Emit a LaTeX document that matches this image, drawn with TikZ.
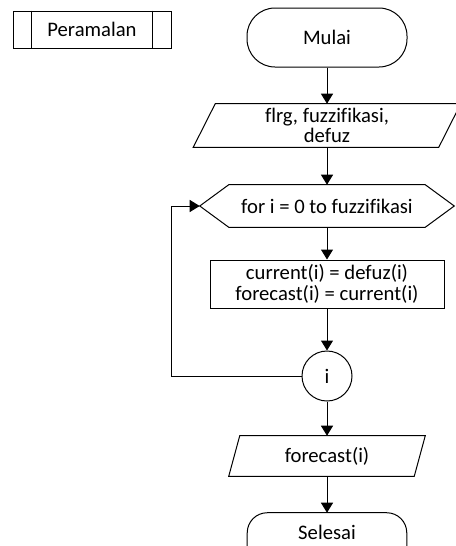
\documentclass[tikz,border=0pt]{standalone}
\usepackage{fontspec}
\setmainfont{Carlito}[Ligatures=NoCommon]
\usetikzlibrary{arrows.meta,calc}
\begin{document}
\begin{tikzpicture}[x=0.75pt,y=-0.75pt,
  every node/.style={font=\fontsize{15.5}{15.5}\selectfont, align=center, inner sep=0pt},
  line/.style={draw=black, line width=0.75pt},
  flow/.style={line, -{Triangle[width=9pt,length=7.5pt]}},
  shapebox/.style={draw=none},
  terminal/.style={line, rounded corners=#1},
  procbox/.style={line}]
\clip (0,0) rectangle (456,546);
\useasboundingbox (0,0) rectangle (456,546);

% predefined process label
\node[procbox, minimum width=118.5pt, minimum height=27.75pt] (p) at (92,29.5) {Peramalan};
\draw[line] ($(p.north west)+(19,0)$) -- ($(p.south west)+(19,0)$);
\draw[line] ($(p.north east)+(-19,0)$) -- ($(p.south east)+(-19,0)$);

% start
\node[terminal=21pt, minimum width=120pt, minimum height=44.25pt] (start) at (327,37.5) {Mulai};

% input
\node[shapebox, minimum width=183.75pt, minimum height=32.25pt] (in) at (327,125.5) {flrg, fuzzifikasi,\\defuz};
\draw[line] ($(in.north west)+(11,0)$) -- ($(in.north east)+(11,0)$)
  -- ($(in.south east)+(-11,0)$) -- ($(in.south west)+(-11,0)$) -- cycle;

% loop header
\node[shapebox, minimum width=190.5pt, minimum height=31.5pt] (loop) at (327,206) {for i = 0 to fuzzifikasi};
\draw[line] (loop.west) -- ($(loop.north west)+(29,0)$) -- ($(loop.north east)+(-29,0)$)
  -- (loop.east) -- ($(loop.south east)+(-29,0)$) -- ($(loop.south west)+(29,0)$) -- cycle;

% process
\node[procbox, minimum width=175.5pt, minimum height=36pt] (proc) at (327,284)
  {current(i) = defuz(i)\\forecast(i) = current(i)};

% connector
\node[line, circle, minimum size=37.5pt] (conn) at (327,376) {i};

% output
\node[shapebox, minimum width=138.75pt, minimum height=30pt] (out) at (327,456) {forecast(i)};
\draw[line] ($(out.north west)+(5.5,0)$) -- ($(out.north east)+(5.5,0)$)
  -- ($(out.south east)+(-5.5,0)$) -- ($(out.south west)+(-5.5,0)$) -- cycle;

% end (its lower part runs past the page edge)
\node[shapebox, minimum width=119.25pt, minimum height=28.5pt] (stop) at (327,532) {Selesai};
\draw[line, rounded corners=15pt] (stop.north west) rectangle ($(stop.south east)+(0,15)$);

% flow lines
\draw[flow] (start.south) -- (in.north);
\draw[flow] (in.south) -- (loop.north);
\draw[flow] (loop.south) -- (proc.north);
\draw[flow] (proc.south) -- (conn.north);
\coordinate (back) at (171,376);
\draw[flow] (conn.west) -- (back) |- (loop.west);
\draw[flow] (conn.south) -- (out.north);
\draw[flow] (out.south) -- (stop.north);
\end{tikzpicture}
\end{document}
